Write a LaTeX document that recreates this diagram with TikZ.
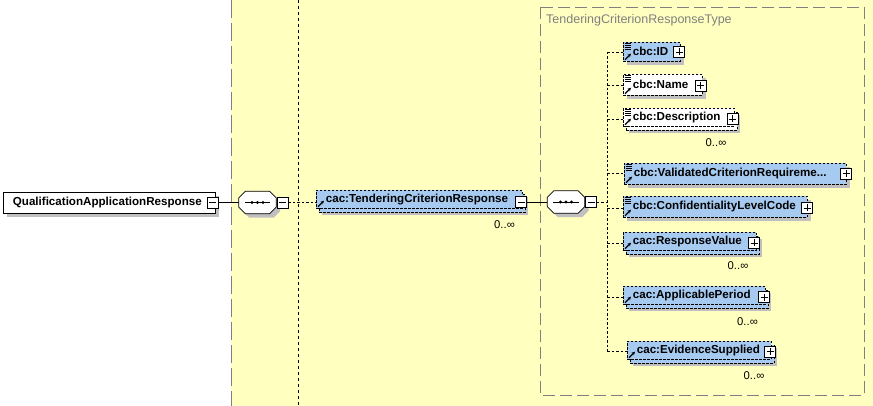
\documentclass[tikz,border=0pt]{standalone}
\usepackage{fontspec}
\setmainfont{Liberation Sans}
\usetikzlibrary{shadows,arrows.meta}
\definecolor{bgyellow}{RGB}{255,255,192}
\definecolor{elblue}{RGB}{166,202,240}
\definecolor{shadegray}{RGB}{192,192,192}
\definecolor{framegray}{RGB}{128,128,128}

\begin{document}
\begin{tikzpicture}
        [x=1pt, y=-1pt,
        elem/.style={draw, fill=elblue, anchor=north west, line width=0.7pt, dash pattern=on 2.5pt off 1.5pt,
                inner xsep=9.5pt, inner ysep=0pt, align=left, font=\fontsize{11.6}{13}\selectfont\bfseries},
        single/.style={drop shadow={shadow xshift=4pt, shadow yshift=-4pt, fill=shadegray, opacity=1}},
        multi/.style={drop shadow={shadow xshift=6pt, shadow yshift=-7pt, fill=shadegray, opacity=1},
                copy shadow={shadow xshift=3pt, shadow yshift=-4pt, fill=#1, draw=black, line width=0.7pt, dash pattern=on 2.5pt off 1.5pt}},
        multi/.default=elblue,
        opt/.style={fill=white},
        root/.style={fill=white, solid, line width=0.8pt},
        seq/.style={minimum width=37pt, minimum height=22pt, inner sep=0pt},
        seqshape/.style={draw, fill=white, line width=0.8pt,
                drop shadow={shadow xshift=4pt, shadow yshift=-4pt, fill=shadegray, opacity=1}},
        mbox/.style={draw, fill=white, minimum size=11pt, inner sep=0pt, line width=0.6pt,
                path picture={\draw[line width=0.6pt] ([xshift=2pt]path picture bounding box.west) -- ([xshift=-2pt]path picture bounding box.east);}},
        pbox/.style={draw, fill=white, minimum size=11pt, inner sep=0pt, line width=0.6pt,
                path picture={\draw[line width=0.6pt] ([xshift=2pt]path picture bounding box.west) -- ([xshift=-2pt]path picture bounding box.east)
                        ([yshift=-2pt]path picture bounding box.north) -- ([yshift=2pt]path picture bounding box.south);}},
        occ/.style={font=\fontsize{11.3}{13}\selectfont, inner sep=0pt},
        link/.style={black, line width=0.8pt, dash pattern=on 2.5pt off 2pt},
        solidlink/.style={black, line width=0.8pt},
        refarrow/.style={line width=1.3pt, -{Stealth[length=3.5pt,width=3.5pt]}}]

        \useasboundingbox (0,0) rectangle (873,406);

        % background of the content model
        \fill[bgyellow] (231,0) rectangle (873,406);
        \draw[framegray, line width=0.8pt, dash pattern=on 18pt off 5pt] (231,0) -- (231,406);
        \draw[black, line width=0.8pt, dash pattern=on 3pt off 3pt] (298,0) -- (298,406);
        \draw[framegray, line width=0.8pt, dash pattern=on 12pt off 5pt] (540,7) rectangle (864,395);
        \node[anchor=west, text=framegray, font=\fontsize{12.5}{14}\selectfont, inner sep=0pt] (tcrtype) at (546,20.5) {TenderingCriterionResponseType};

        % sequence compositors
        \node[seq] (seqa) at (257.5,202.5) {};
        \node[seq] (seqb) at (566,202) {};
        \foreach \s in {seqa,seqb} {
                \path[seqshape] ([shift={(6.5,0)}]\s.north west) -- ([shift={(-6.5,0)}]\s.north east)
                        -- ([shift={(0,6.5)}]\s.north east) -- ([shift={(0,-6.5)}]\s.south east)
                        -- ([shift={(-6.5,0)}]\s.south east) -- ([shift={(6.5,0)}]\s.south west)
                        -- ([shift={(0,-6.5)}]\s.south west) -- ([shift={(0,6.5)}]\s.north west) -- cycle;
                \draw[line width=0.8pt] ([xshift=6pt]\s.west) -- ([xshift=-6pt]\s.east);
                \foreach \d in {-5.5,0,5.5}
                        \fill ([xshift=\d pt]\s.center) circle (1.6);
        }

        % root element and first sequence
        \node[elem, root, single, text width=193pt, minimum height=21pt] (qar) at (3,192) {QualificationApplicationResponse};
        \node[mbox] (qarm) at (212.5,202.5) {};
        \node[mbox] (seqam) at (282.5,202.5) {};

        \node[elem, multi, text width=187pt, minimum height=18pt] (tcr) at (316,190) {cac:TenderingCriterionResponse};
        \node[mbox] (tcrm) at (521,202) {};
        \node[occ] (tcro) at (504.5,225) {0..∞};
        \node[mbox] (seqbm) at (591,202) {};

        \coordinate (spinetop) at (607,52);
        \coordinate (spinebot) at (607,352);

        % children of the type
        \node[elem, single, text width=38pt, minimum height=19pt] (id) at (623,42) {cbc:ID};
        \node[elem, single, opt, text width=60pt, minimum height=21pt] (name) at (623,74) {cbc:Name};
        \node[elem, multi=white, opt, text width=92pt, minimum height=18pt] (desc) at (623,108) {cbc:Description};
        \node[elem, single, text width=203pt, minimum height=21pt] (valid) at (624,163) {cbc:ValidatedCriterionRequireme...};
        \node[elem, single, text width=165pt, minimum height=21pt] (conf) at (623,196) {cbc:ConfidentialityLevelCode};
        \node[elem, multi, text width=114pt, minimum height=18pt] (resp) at (623,232) {cac:ResponseValue};
        \node[elem, multi, text width=123pt, minimum height=18pt] (period) at (623,286) {cac:ApplicablePeriod};
        \node[elem, multi, text width=125pt, minimum height=18pt] (evid) at (627,341) {cac:EvidenceSupplied};

        \node[pbox] (idp) at (679,52) {};
        \node[pbox] (namep) at (700.5,85.5) {};
        \node[pbox] (descp) at (732.5,119) {};
        \node[pbox] (validp) at (846,173.5) {};
        \node[pbox] (confp) at (807,208) {};
        \node[pbox] (respp) at (754,243) {};
        \node[pbox] (periodp) at (764,297) {};
        \node[pbox] (evidp) at (770,351.5) {};

        \node[occ] (desco) at (716,143) {0..∞};
        \node[occ] (respo) at (738,266) {0..∞};
        \node[occ] (periodo) at (747.5,322) {0..∞};
        \node[occ] (evido) at (754,376) {0..∞};

        % icons
        \foreach \n in {tcr,id,name,desc,valid,conf,resp,period,evid}
                \draw[refarrow] ([shift={(2,-2)}]\n.south west) -- ++(6,-6);
        \foreach \n in {id,name,desc,valid,conf}
                \foreach \k in {0,...,3}
                        \draw[line width=0.5pt] ([shift={(1.5,1.5+1.8*\k)}]\n.north west) -- ++(6,0);

        % connectors
        \draw[solidlink] (qarm.east) -- (seqa.west);
        \draw[link] (seqam.east) -- (tcr.west |- seqam);
        \draw[solidlink] (tcrm.east) -- (seqb.west);
        \draw[link] (seqbm.east) -- (spinetop |- seqbm);
        \draw[link] (spinetop) -- (spinebot);
        \draw[link] (spinetop |- idp) -- (id.west |- idp);
        \draw[link] (spinetop |- namep) -- (name.west |- namep);
        \draw[link] (spinetop |- descp) -- (desc.west |- descp);
        \draw[link] (spinetop |- validp) -- (valid.west |- validp);
        \draw[link] (spinetop |- confp) -- (conf.west |- confp);
        \draw[link] (spinetop |- respp) -- (resp.west |- respp);
        \draw[link] (spinetop |- periodp) -- (period.west |- periodp);
        \draw[link] (spinetop |- evidp) -- (evid.west |- evidp);

\end{tikzpicture}
\end{document}
